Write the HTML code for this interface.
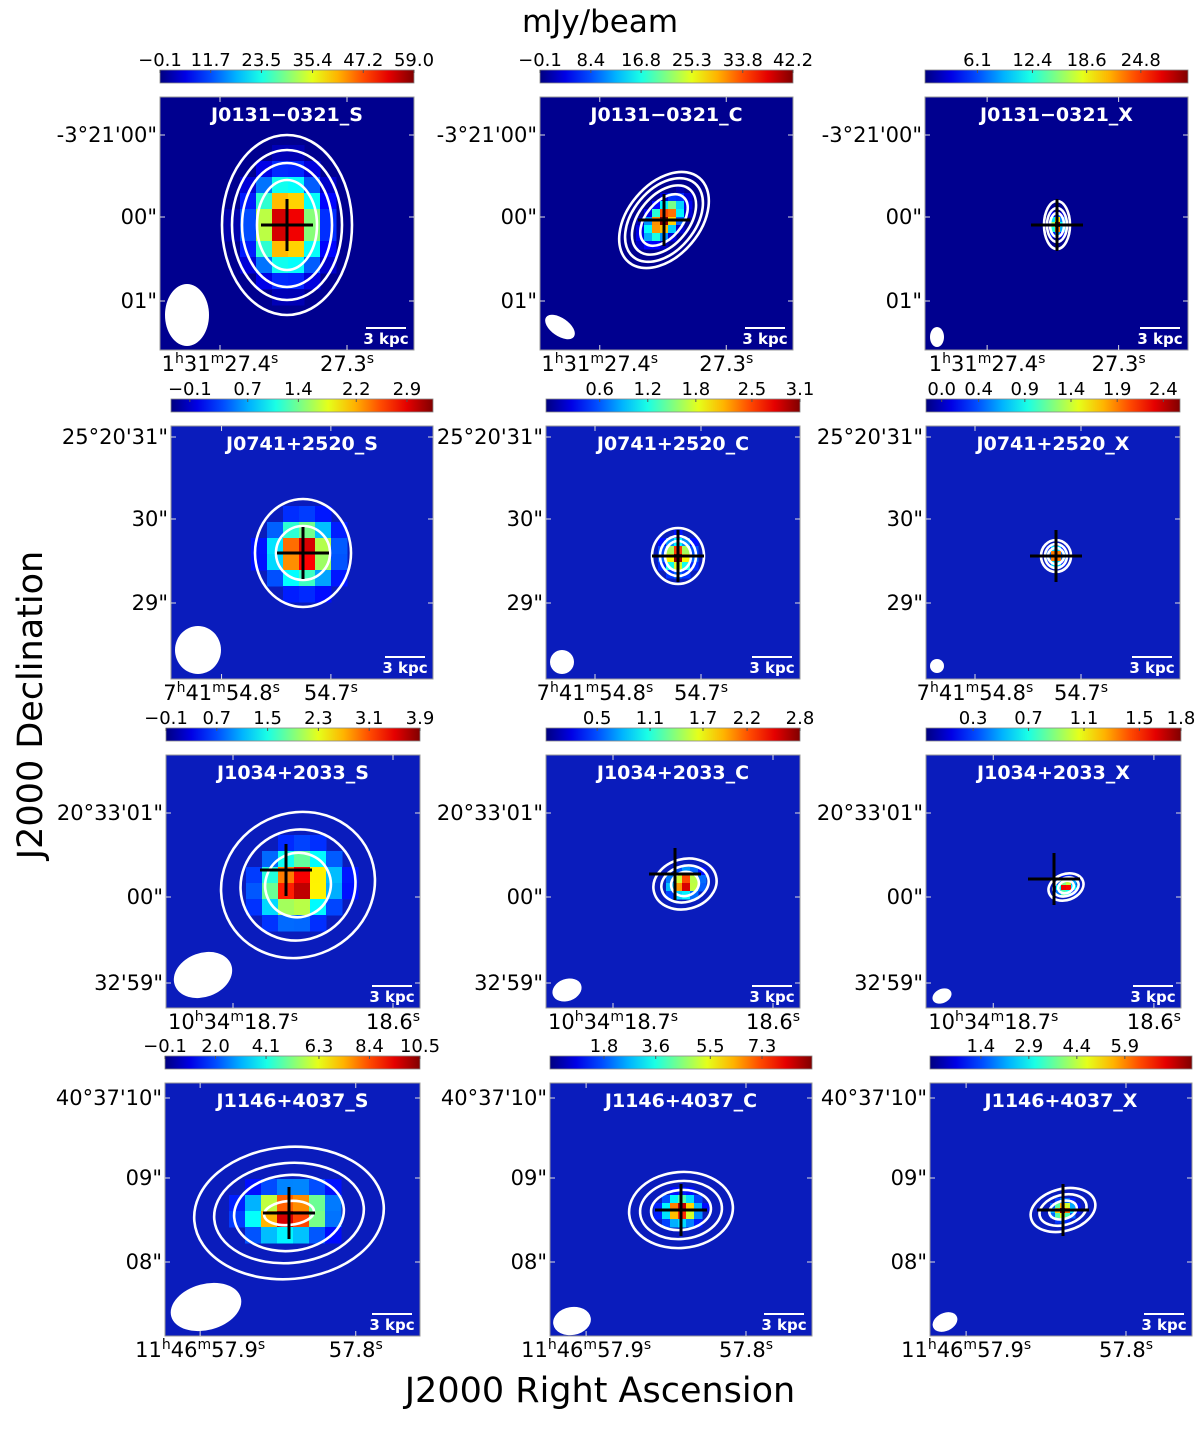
<!DOCTYPE html>
<html><head><meta charset="utf-8">
<style>
html,body{margin:0;padding:0;background:#fff;}
svg text{font-family:"DejaVu Sans","Liberation Sans",sans-serif;}
</style></head>
<body>
<svg id="fig" width="1200" height="1424" viewBox="0 0 1200 1424" xmlns="http://www.w3.org/2000/svg">
<text x="600" y="32" font-size="31" text-anchor="middle" fill="#000">mJy/beam</text>
<text x="600" y="1402" font-size="35" text-anchor="middle" fill="#000">J2000 Right Ascension</text>
<text x="0" y="0" font-size="35" text-anchor="middle" fill="#000" transform="translate(42,705) rotate(-90)">J2000 Declination</text>
<g id="panels"></g>
</svg>
<script>
// panel identifiers
const names = ["J0131\u22120321_S","J0131\u22120321_C","J0131\u22120321_X",
"J0741+2520_S","J0741+2520_C","J0741+2520_X",
"J1034+2033_S","J1034+2033_C","J1034+2033_X",
"J1146+4037_S","J1146+4037_C","J1146+4037_X"];
// colorbar ranges and ticks
const cbMin = [-0.1,-0.1,0.1,-0.36,-0.07,-0.17,-0.1,-0.08,-0.04,-0.1,-0.08,-0.19];
const cbMax = [59.0,42.2,30.2,3.26,3.1,2.58,3.9,2.8,1.8,10.5,9.04,8.0];
const cbTicks = [
["\u22120.1","11.7","23.5","35.4","47.2","59.0"],
["\u22120.1","8.4","16.8","25.3","33.8","42.2"],
["6.1","12.4","18.6","24.8"],
["\u22120.1","0.7","1.4","2.2","2.9"],
["0.6","1.2","1.8","2.5","3.1"],
["0.0","0.4","0.9","1.4","1.9","2.4"],
["\u22120.1","0.7","1.5","2.3","3.1","3.9"],
["0.5","1.1","1.7","2.2","2.8"],
["0.3","0.7","1.1","1.5","1.8"],
["\u22120.1","2.0","4.1","6.3","8.4","10.5"],
["1.8","3.6","5.5","7.3"],
["1.4","2.9","4.4","5.9"]];
// axis tick labels per row
const decLabels = [["-3\u00b021'00\"","00\"","01\""],["25\u00b020'31\"","30\"","29\""],["20\u00b033'01\"","00\"","32'59\""],["40\u00b037'10\"","09\"","08\""]];
const raLabels = [["1","31","27.4","27.3"],["7","41","54.8","54.7"],["10","34","18.7","18.6"],["11","46","57.9","57.8"]];
// source parameters: peak sigma (x,y), rotation, contour semi-axes
const srcSigX = [22,8,4,18,8,4,22,9,5,24,10,6];
const srcSigY = [30,15,6,18,9,5,19,7,4,14,8,5];
const srcRot = [0,40,0,0,0,0,-25,-15,-20,-5,-5,-15];
const contRx = [[30,45,55,65],[18,25,31,36],[7,10,13],[27,48],[13,18,26],[8,11,15],[33,58,78],[14,24,32],[8,13,18],[25,55,75,95],[30,41,52],[14,24,33]];
const contRy = [[45,62,75,90],[30,40,48,55],[12,17,24],[27,54],[15,20,28],[8,12,16],[32,55,72],[12,18,25],[6,9,13],[12,38,50,66],[20,29,38],[9,15,21]];
const beamRx = [22,9,7,23,12,7,30,15,10,36,19,13];
const beamRy = [31,17,10,24,12,7,22,11,7,23,14,9];
const beamRot = [0,-55,0,0,0,0,-20,-20,-25,-15,-10,-25];

// layout (pixel geometry, not data)
const px = [160,540,925,171,546,926,166,546,926,165,550,930];
const pw = [254,253,263,262,254,254,254,254,255,255,262,262];
const rowTop = [97,426,755,1083];
const ph = 253;
const cen = [[127,128],[124,123],[132,128],[132,127],[132,130],[130,130],[132,130],[139,129],[140,132],[124,130],[131,127],[133,127]];
const crossOff = [[0,0],[0,0],[0,0],[0,0],[0,0],[0,0],[-12,-15],[-10,-10],[-12,-8],[0,0],[0,0],[0,0]];
const beamPos = [[27,218],[20,230],[12,240],[27,224],[16,236],[11,240],[37,220],[21,235],[16,241],[41,224],[22,238],[15,239]];
const decY = [[38,120,204],[11,93,177],[58,142,228],[15,95,179]];
const raX = [[60,187],[49,155],[67,227],[35,190]];
const cell = [16,8,5,16,8,5,16,8,5,16,8,5];

function jet(x){x=Math.max(0,Math.min(1,x));
 const c=v=>Math.round(255*Math.max(0,Math.min(1,v)));
 return `rgb(${c(1.5-Math.abs(4*x-3))},${c(1.5-Math.abs(4*x-2))},${c(1.5-Math.abs(4*x-1))})`;}
const NS="http://www.w3.org/2000/svg";
function mk(tag,attrs,parent){const e=document.createElementNS(NS,tag);for(const k in attrs)e.setAttribute(k,attrs[k]);parent.appendChild(e);return e;}
const root=document.getElementById('panels');

for(let i=0;i<12;i++){
 const r=Math.floor(i/3), x0=px[i], y0=rowTop[r], w=pw[i];
 const g=mk('g',{},root);
 
 
 const cy=y0-27;
 const gid='cbg'+i;
 const defs=mk('defs',{},g);
 const lg=mk('linearGradient',{id:gid,x1:0,x2:1,y1:0,y2:0},defs);
 for(let s=0;s<=10;s++)mk('stop',{offset:s/10,'stop-color':jet(s/10)},lg);
 const cb=mk('rect',{x:x0,y:cy,width:w,height:13,fill:`url(#${gid})`,stroke:'#888','stroke-width':0.8},g);
 
 
 for(const t of cbTicks[i]){
  const v=parseFloat(t.replace('\u2212','-'));
  const tx=x0+(v-cbMin[i])/(cbMax[i]-cbMin[i])*w;
  mk('line',{x1:tx,x2:tx,y1:cy,y2:cy+3,stroke:'#555','stroke-width':1},g);
  const lt=mk('text',{x:tx,y:cy-4,'font-size':18,'text-anchor':'middle',fill:'#000'},g);
  lt.textContent=t;
  
  
 }
 const bg = r===0?'#00008f':'#0a1cbc';
 const clipId='clip'+i;
 const cp=mk('clipPath',{id:clipId},defs);
 mk('rect',{x:x0,y:y0,width:w,height:ph},cp);
 const img=mk('g',{'clip-path':`url(#${clipId})`},g);
 
 
 mk('rect',{x:x0,y:y0,width:w,height:ph,fill:bg},img);
 const cx=x0+cen[i][0], cyy=y0+cen[i][1];
 const th=srcRot[i]*Math.PI/180, sx=srcSigX[i], sy=srcSigY[i], cs=cell[i];
 const base = r===0?0:0.1;
 for(let gy=y0;gy<y0+ph;gy+=cs){for(let gx=x0;gx<x0+w;gx+=cs){
  const dx=gx+cs/2-cx, dy=gy+cs/2-cyy;
  const u=dx*Math.cos(th)+dy*Math.sin(th), vv=-dx*Math.sin(th)+dy*Math.cos(th);
  const val=Math.exp(-(u*u/(2*sx*sx)+vv*vv/(2*sy*sy)));
  if(val<0.04)continue;
  mk('rect',{x:gx,y:gy,width:cs+0.5,height:cs+0.5,fill:jet(base+val*(1-base))},img);
 }}
 for(let k=0;k<contRx[i].length;k++){
  const c=mk('ellipse',{cx:cx,cy:cyy,rx:contRx[i][k],ry:contRy[i][k],fill:'none',stroke:'#fff','stroke-width':2.6,transform:`rotate(${srcRot[i]} ${cx} ${cyy})`},img);
  
  
 }
 const kx=cx+crossOff[i][0], ky=cyy+crossOff[i][1];
 const cr=mk('g',{stroke:'#000','stroke-width':3},img);
 
 
 mk('line',{x1:kx-26,x2:kx+26,y1:ky,y2:ky},cr);
 mk('line',{x1:kx,x2:kx,y1:ky-26,y2:ky+26},cr);
 const bx=x0+beamPos[i][0], by=y0+beamPos[i][1];
 const be=mk('ellipse',{cx:bx,cy:by,rx:beamRx[i],ry:beamRy[i],fill:'#fff',transform:`rotate(${beamRot[i]} ${bx} ${by})`},img);
 
 
 const sb=mk('g',{},img);
 
 
 mk('line',{x1:x0+w-48,x2:x0+w-8,y1:y0+ph-22,y2:y0+ph-22,stroke:'#fff','stroke-width':2},sb);
 const st=mk('text',{x:x0+w-28,y:y0+ph-6,'font-size':15,'font-weight':'bold','text-anchor':'middle',fill:'#fff'},sb);
 st.textContent='3 kpc';
 const tt=mk('text',{x:x0+w/2,y:y0+24,'font-size':19,'font-weight':'bold','text-anchor':'middle',fill:'#fff'},img);
 tt.textContent=names[i];
 
 
 mk('rect',{x:x0,y:y0,width:w,height:ph,fill:'none',stroke:'#999','stroke-width':1},g);
 for(let k=0;k<3;k++){
  const ty=y0+decY[r][k];
  mk('line',{x1:x0,x2:x0+5,y1:ty,y2:ty,stroke:'#ddd','stroke-width':1},g);
  mk('line',{x1:x0+w-5,x2:x0+w,y1:ty,y2:ty,stroke:'#ddd','stroke-width':1},g);
  const dt=mk('text',{x:x0-3,y:ty+7,'font-size':21,'text-anchor':'end',fill:'#000'},g);
  dt.textContent=decLabels[r][k];
  
  
 }
 const L=raLabels[r];
 for(let k=0;k<2;k++){
  const tx=x0+raX[r][k]*w/254;
  mk('line',{x1:tx,x2:tx,y1:y0,y2:y0+5,stroke:'#ddd','stroke-width':1},g);
  mk('line',{x1:tx,x2:tx,y1:y0+ph-5,y2:y0+ph,stroke:'#ddd','stroke-width':1},g);
  const rt=mk('text',{x:tx,y:y0+ph+21,'font-size':21,'text-anchor':'middle',fill:'#000'},g);
  
  
  if(k===0){
   rt.innerHTML=`${L[0]}<tspan dy="-8" font-size="14">h</tspan><tspan dy="8">${L[1]}</tspan><tspan dy="-8" font-size="14">m</tspan><tspan dy="8">${L[2]}</tspan><tspan dy="-8" font-size="14">s</tspan>`;
  } else {
   rt.innerHTML=`${L[3]}<tspan dy="-8" font-size="14">s</tspan>`;
  }
 }
}
</script>
</body></html>
